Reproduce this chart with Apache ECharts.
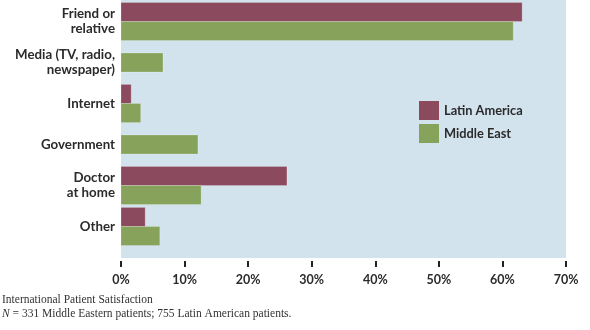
<!DOCTYPE html>
<html>
<head>
<meta charset="utf-8">
<script src="https://cdn.jsdelivr.net/npm/echarts@6/dist/echarts.min.js"></script>
<style>html,body{margin:0;padding:0;background:#fff}#c{width:590px;height:330px}</style>
</head>
<body>
<div id="c"></div>
<script>
const categories = ["Friend or\nrelative", "Media (TV, radio,\nnewspaper)", "Internet", "Government", "Doctor\nat home", "Other"];
const latinAmerica = [63.1, null, 1.6, null, 26.1, 3.8];
const middleEast = [61.7, 6.6, 3.1, 12.1, 12.6, 6.1];
const xTicks = [0, 10, 20, 30, 40, 50, 60, 70];
const seriesNames = ["Latin America", "Middle East"];
const colors = ["#8B4A5D", "#87A35B"];

const all = [latinAmerica, middleEast];
function buildData(slot) {
  const out = [];
  all[slot].forEach((v, i) => {
    if (v == null) return;
    const paired = (latinAmerica[i] != null && middleEast[i] != null) ? 1 : 0;
    out.push([i, v, paired, slot]);
  });
  return out;
}
function renderItem(params, api) {
  const cat = api.value(0), val = api.value(1), paired = api.value(2), slot = api.value(3);
  const base = api.coord([0, cat]);
  const end = api.coord([val, cat]);
  const band = api.size([0, 1])[1];
  const h = band * 0.465;
  const y0 = paired ? (slot === 0 ? base[1] - h : base[1]) : base[1] - h / 2;
  return {
    type: 'rect',
    shape: { x: base[0], y: y0, width: end[0] - base[0], height: h },
    style: api.style({ stroke: 'rgba(255,255,255,0.35)', lineWidth: 0.6 })
  };
}
const chart = echarts.init(document.getElementById('c'));
const labelFont = { fontFamily: 'Lato, "Open Sans", sans-serif', fontWeight: 'bold', fontSize: 13.3, color: '#2b2b2b' };
chart.setOption({
  animation: false,
  grid: [
    { left: 121, right: 24, top: 0, height: 258, show: true, backgroundColor: '#D3E3ED', borderWidth: 0 },
    { left: 121, right: 24, top: 1, height: 246 }
  ],
  xAxis: [
    { gridIndex: 0, type: 'value', show: false, min: 0, max: 70 },
    { gridIndex: 1, type: 'value', min: 0, max: 70, interval: 10, offset: 14,
      axisLine: { show: false }, splitLine: { show: false },
      axisTick: { show: true, length: 6, lineStyle: { color: '#222', width: 2 } },
      axisLabel: Object.assign({}, labelFont, { margin: 12, fontSize: 12.5, formatter: v => v + '%' }) }
  ],
  yAxis: [
    { gridIndex: 0, type: 'value', show: false },
    { gridIndex: 1, type: 'category', data: categories, inverse: true,
      axisLine: { show: false }, axisTick: { show: false }, splitLine: { show: false },
      axisLabel: Object.assign({ margin: 6, lineHeight: 15, align: 'right' }, labelFont) }
  ],
  legend: {
    orient: 'vertical', left: 419, top: 101, padding: 0, itemWidth: 20, itemHeight: 19, itemGap: 4,
    icon: 'rect', data: seriesNames,
    textStyle: Object.assign({}, labelFont, { fontSize: 12.8 })
  },
  series: seriesNames.map((name, s) => ({
    name: name, type: 'custom', xAxisIndex: 1, yAxisIndex: 1,
    itemStyle: { color: colors[s] },
    encode: { x: 1, y: 0 },
    renderItem: renderItem,
    data: buildData(s)
  })),
  graphic: [
    { type: 'text', left: 2, top: 294, style: { text: 'International Patient Satisfaction', font: '11.5px "Liberation Serif", "Times New Roman", serif', fill: '#333' } },
    { type: 'text', left: 2, top: 308, style: {
      text: '{i|N} = 331 Middle Eastern patients; 755 Latin American patients.',
      font: '11.5px "Liberation Serif", "Times New Roman", serif', fill: '#333',
      rich: { i: { fontStyle: 'italic', fontFamily: '"Liberation Serif", serif', fontSize: 11.5, fill: '#333' } } } }
  ]
});
</script>
</body>
</html>
